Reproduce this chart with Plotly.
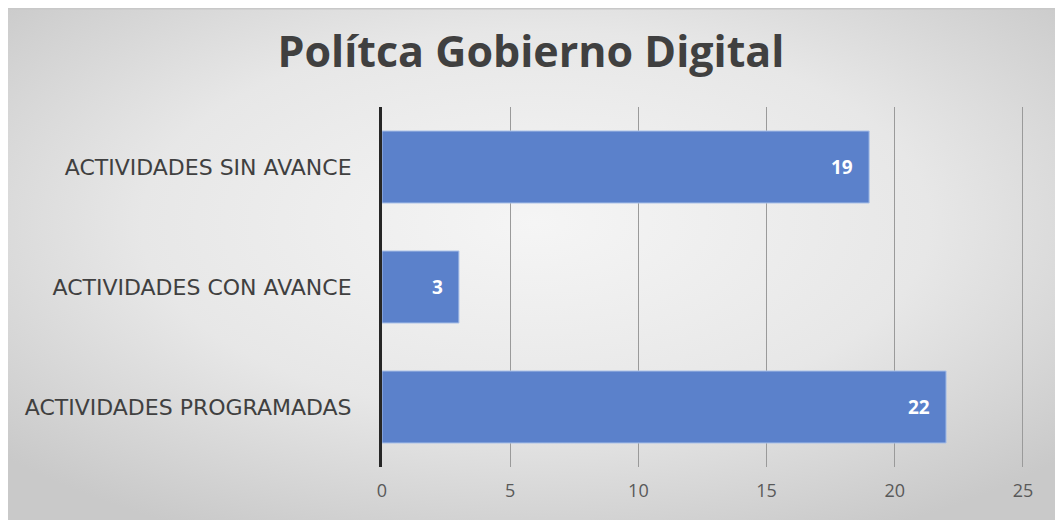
import base64
import plotly.graph_objects as go

categories = ["ACTIVIDADES PROGRAMADAS", "ACTIVIDADES CON AVANCE", "ACTIVIDADES SIN AVANCE"]
values = [22, 3, 19]
x_ticks = [0, 5, 10, 15, 20, 25]

# page has an 8px body margin, so the figure is sized to fit the window
W, H = 1055, 512
L, T = 374, 99
pw, ph = 642, 360
R, B = W - L - pw, H - T - ph

svg = f'''<svg xmlns="http://www.w3.org/2000/svg" width="{W}" height="{H}" viewBox="0 0 {W} {H}">
<defs><radialGradient id="g" cx="50%" cy="42%" r="68%">
<stop offset="0%" stop-color="#f5f5f5"/><stop offset="55%" stop-color="#e7e7e7"/><stop offset="100%" stop-color="#c9c9c9"/>
</radialGradient></defs>
<rect x="0" y="0" width="{W}" height="{H}" fill="url(#g)"/>
<rect x="0" y="0" width="{W}" height="1.5" fill="#c8c8c8"/>
</svg>'''
src = "data:image/svg+xml;base64," + base64.b64encode(svg.encode()).decode()

fig = go.Figure(go.Bar(
    y=categories, x=values, orientation="h",
    marker=dict(color="#5b81cb", line=dict(color="#a9c0e8", width=1)),
    width=0.6, hoverinfo="x+y",
))

for c, v in zip(categories, values):
    fig.add_annotation(x=v, y=c, text=f"<b>{v}</b>", showarrow=False,
                       xanchor="right", xshift=-14,
                       font=dict(family="Open Sans", size=19, color="white"))

fig.add_layout_image(dict(
    source=src, xref="paper", yref="paper",
    x=-L / pw, y=1 + T / ph, sizex=W / pw, sizey=H / ph,
    sizing="stretch", xanchor="left", yanchor="top", layer="below",
))

fig.update_layout(
    width=W, height=H,
    margin=dict(l=L, r=R, t=T, b=B),
    paper_bgcolor="white", plot_bgcolor="rgba(0,0,0,0)",
    showlegend=False,
    title=dict(text="<b>Polítca Gobierno Digital</b>", x=0.4957, xanchor="center",
               y=0.914, yanchor="middle",
               font=dict(family="Open Sans", size=43, color="#404040")),
    xaxis=dict(range=[0, 25.04], tickvals=x_ticks, showgrid=True, gridcolor="#9a9a9a",
               gridwidth=1, zeroline=False, showline=False, ticks="",
               tickfont=dict(family="Open Sans", size=18, color="#595959"),
               ticklabelstandoff=11),
    yaxis=dict(showline=True, linecolor="#262626", linewidth=3, showgrid=False,
               ticks="", tickfont=dict(family="DejaVu Sans", size=22, color="#404040"),
               ticklabelstandoff=23),
)

fig.write_html("out.html")
